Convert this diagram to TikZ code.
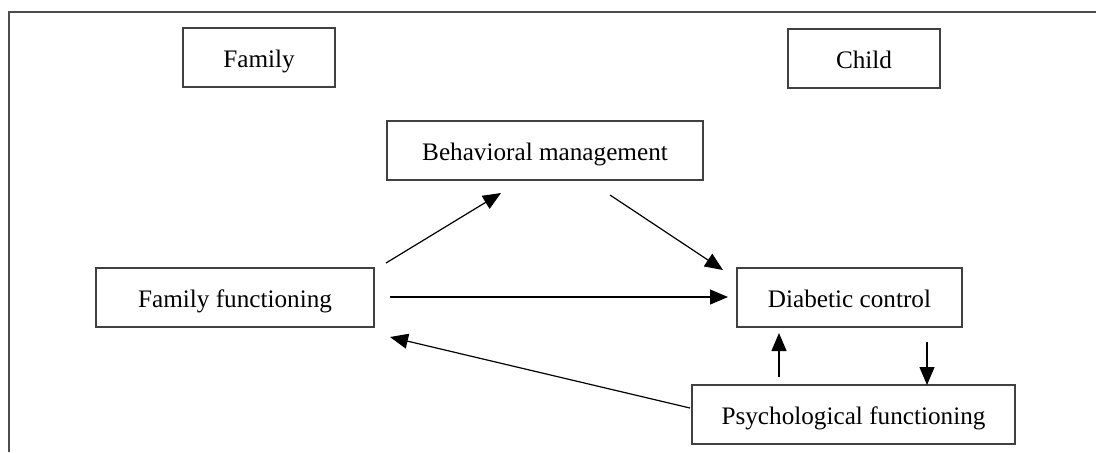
\documentclass[tikz,border=0pt]{standalone}
\usepackage{fontspec}
\setmainfont{Liberation Serif}
\usetikzlibrary{arrows.meta}
\begin{document}
\begin{tikzpicture}
[x=0.5pt,y=-0.5pt,
  boxdecorate/.style={shape=rectangle,draw=black!75,line width=0.6pt,inner sep=0pt,
    minimum height=29.5pt,text height=12pt,text depth=2.5pt,
    font=\fontsize{12.6}{15}\selectfont},
  linedecorate/.style={-{Triangle[length=9pt,width=7.5pt]},line width=0.6pt}]
\useasboundingbox (0,0) rectangle (1096,452);
%% frame
\draw[black!70,line width=1pt] (9,452) -- (9,12) -- (1096,12);
%% boxes
\foreach \nodename/\x/\y/\w/\label in {fam/259/57.5/76/Family,
  chi/864/58.5/76/Child, beh/545/150.5/158/Behavioral management,
  ffun/235/297.5/139/Family functioning, diab/849.5/297.5/112.5/Diabetic control,
  psy/853.5/414.5/161.5/Psychological functioning}
{
  \node (\nodename) at (\x,\y) [boxdecorate,minimum width=\w pt] {\label};
}
%% arrow ends
\foreach \c/\x/\y in {ffb/386/263, bff/501/193, bd/610/195, db/723/270,
  ffd/390/297, dff/728/297, pff/690/408, ffp/390/337,
  pd/779/377, dp/779/333, dpd/927/342, pdd/927/385}
{
  \coordinate (\c) at (\x,\y);
}
%% connectors
\path
\foreach \startnode/\endnode in {ffb/bff, bd/db, ffd/dff, pff/ffp, pd/dp, dpd/pdd}
{
  (\startnode) edge[linedecorate] (\endnode)
};
\end{tikzpicture}
\end{document}
